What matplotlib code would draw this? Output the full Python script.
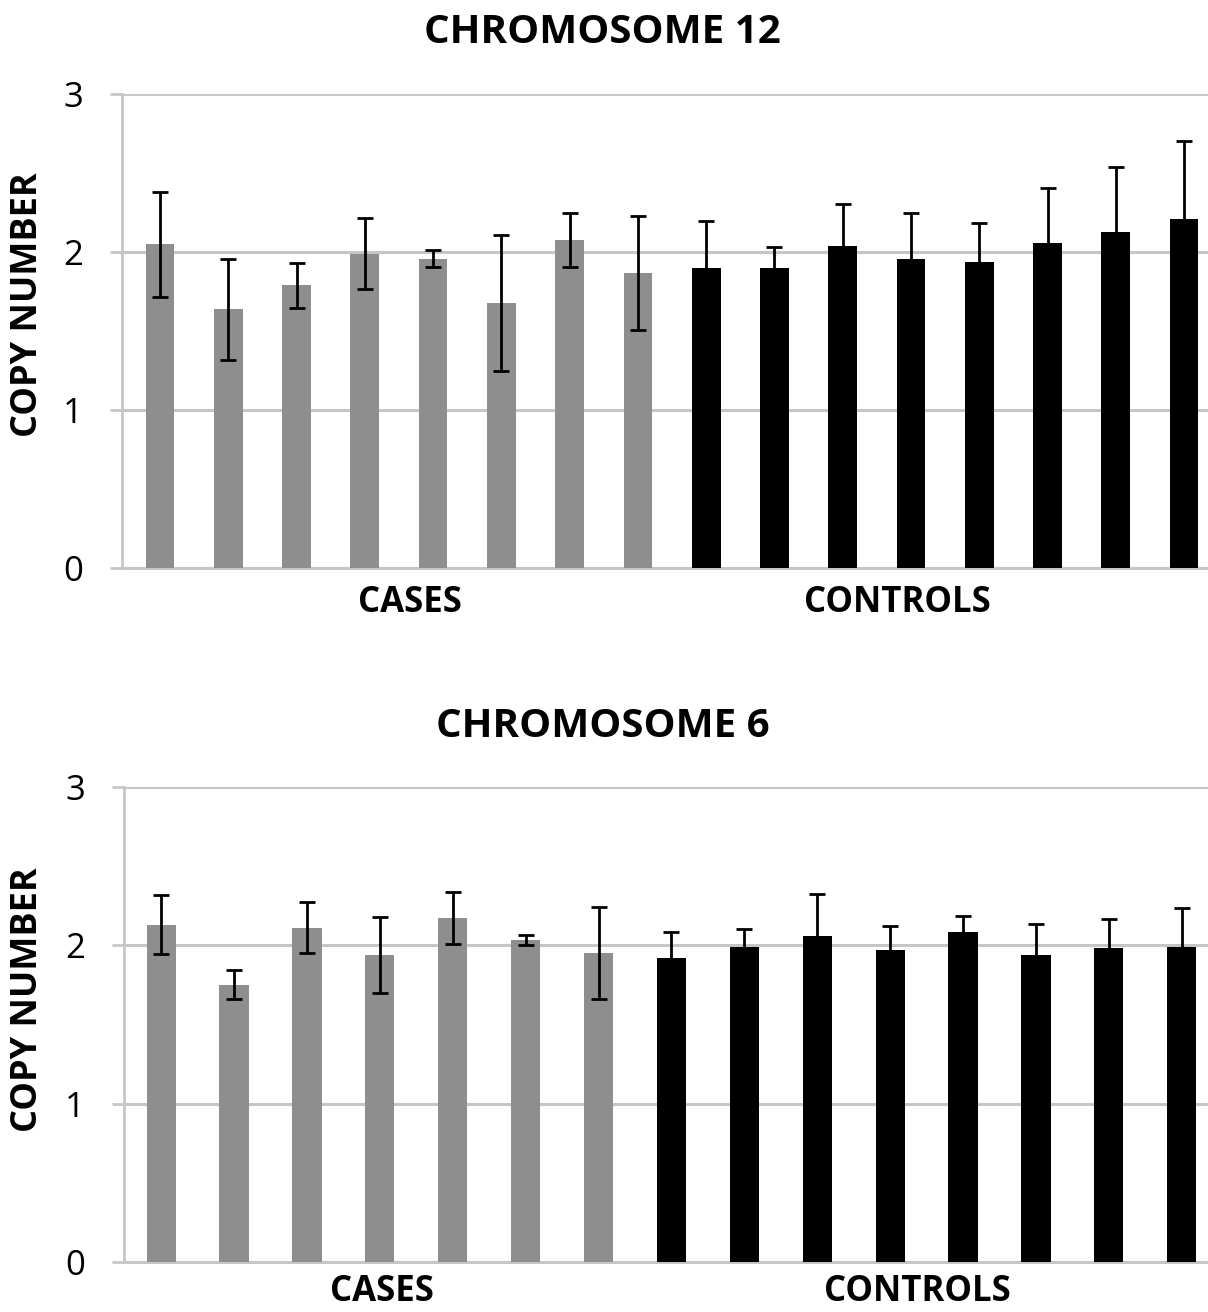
import matplotlib
matplotlib.use("Agg")
import matplotlib.pyplot as plt
import numpy as np

plt.rcParams['font.family'] = ['Open Sans', 'DejaVu Sans']

# chromosome 12: 8 cases, 8 controls
chr12_cases = [2.05, 1.64, 1.79, 1.99, 1.96, 1.68, 2.08, 1.87]
chr12_cases_err = [0.33, 0.32, 0.14, 0.225, 0.055, 0.43, 0.17, 0.36]
chr12_controls = [1.90, 1.90, 2.04, 1.96, 1.94, 2.06, 2.13, 2.21]
chr12_controls_err = [0.30, 0.135, 0.265, 0.29, 0.245, 0.345, 0.41, 0.495]

# chromosome 6: 7 cases, 8 controls
chr6_cases = [2.13, 1.75, 2.11, 1.94, 2.17, 2.03, 1.95]
chr6_cases_err = [0.185, 0.092, 0.16, 0.24, 0.165, 0.032, 0.29]
chr6_controls = [1.92, 1.99, 2.06, 1.97, 2.08, 1.94, 1.98, 1.99]
chr6_controls_err = [0.16, 0.11, 0.26, 0.15, 0.104, 0.194, 0.186, 0.245]

titles = ['CHROMOSOME 12', 'CHROMOSOME 6']
group_labels = ['CASES', 'CONTROLS']
yticks = [0, 1, 2, 3]

GRAY = '#8e8e8e'
GRID = '#c6c6c6'

fig = plt.figure(figsize=(12.08, 13.12), dpi=100)


def draw_panel(rect, cases, cases_err, controls, controls_err, title,
               xlim, width, label_x, label_y, title_y, ylab_y):
    ax = fig.add_axes(rect)
    vals = list(cases) + list(controls)
    errs = list(cases_err) + list(controls_err)
    colors = [GRAY] * len(cases) + ['black'] * len(controls)
    x = np.arange(len(vals))
    ax.bar(x, vals, width, color=colors, zorder=3)
    ax.errorbar(x, vals, yerr=errs, fmt='none', ecolor='black',
                elinewidth=2, capsize=5.5, capthick=2, zorder=4)
    ax.set_xlim(*xlim)
    ax.set_ylim(0, 3)
    ax.set_yticks(yticks)
    ax.set_xticks([])
    ax.yaxis.grid(True, color=GRID, linewidth=2.2, zorder=0)
    ax.tick_params(axis='y', length=9, width=2, color=GRID, pad=19,
                   labelsize=25)
    for s in ['top', 'right']:
        ax.spines[s].set_visible(False)
    ax.spines['left'].set_color(GRID)
    ax.spines['left'].set_linewidth(2)
    ax.spines['bottom'].set_color(GRID)
    ax.spines['bottom'].set_linewidth(2.2)
    fig.text(0.499, title_y, title, ha='center', va='center',
             fontsize=29, fontweight='bold')
    fig.text(0.023, ylab_y, 'COPY NUMBER', ha='center', va='center',
             rotation=90, fontsize=26, fontweight='bold')
    for lx, lab in zip(label_x, group_labels):
        ax.text(lx, label_y, lab, transform=ax.transAxes, ha='center',
                va='center', fontsize=25, fontweight='bold')
    return ax


draw_panel([0.101, 0.567, 0.899, 0.361], chr12_cases, chr12_cases_err,
           chr12_controls, chr12_controls_err, titles[0],
           (-0.556, 15.35), 0.42, [0.265, 0.714], -0.073, 0.9756, 0.7675)
draw_panel([0.1026, 0.0381, 0.8974, 0.3623], chr6_cases, chr6_cases_err,
           chr6_controls, chr6_controls_err, titles[1],
           (-0.51, 14.36), 0.40, [0.238, 0.732], -0.064, 0.4459, 0.2378)

fig.savefig('out.png', dpi=100)
